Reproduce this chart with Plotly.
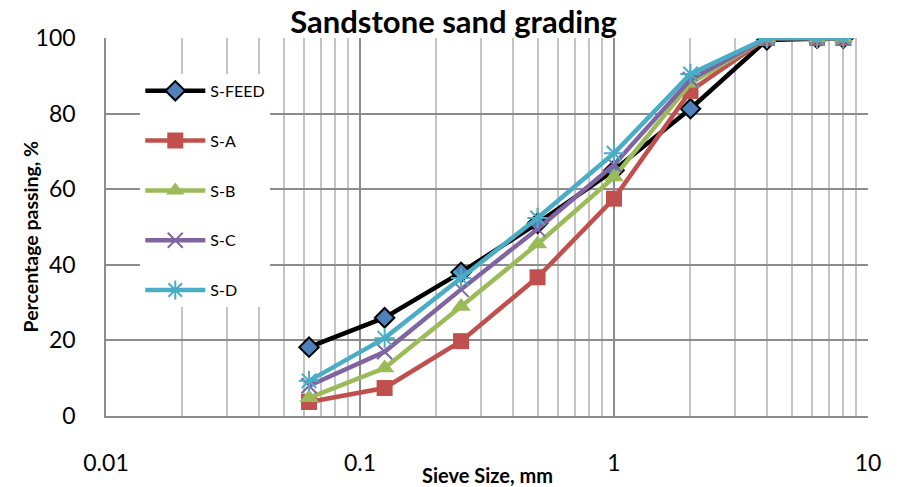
import plotly.graph_objects as go

sieve_mm = [0.063, 0.125, 0.25, 0.5, 1, 2, 4, 6.3, 8]
s_feed = [18.2, 26.0, 38.0, 51.0, 65.0, 81.3, 99.5, 100, 100]
s_a = [3.7, 7.4, 19.8, 36.7, 57.5, 86.0, 100, 100, 100]
s_b = [4.8, 12.7, 29.0, 45.5, 63.2, 88.0, 100, 100, 100]
s_c = [8.0, 17.0, 33.5, 49.5, 66.5, 89.0, 100, 100, 100]
s_d = [9.3, 20.6, 36.5, 52.4, 69.5, 90.5, 100, 100, 100]

x_tickvals = [0.01, 0.1, 1, 10]
x_ticktext = ["0.01", "0.1", "1", "10"]

FONT = "Lato, 'Open Sans', sans-serif"

series = [
    ("S-FEED", s_feed, "#000000", dict(symbol="diamond", size=15, color="#4f81bd", line=dict(color="#000000", width=2))),
    ("S-A", s_a, "#c0504d", dict(symbol="square", size=16, color="#c0504d", line=dict(width=0))),
    ("S-B", s_b, "#9bbb59", dict(symbol="triangle-up", size=17, color="#9bbb59", line=dict(width=0))),
    ("S-C", s_c, "#8064a2", dict(symbol="x-thin-open", size=15, color="#8064a2", line=dict(color="#8064a2", width=2))),
    ("S-D", s_d, "#4bacc6", dict(symbol="asterisk-open", size=17, color="#4bacc6", line=dict(color="#4bacc6", width=2))),
]

fig = go.Figure()
for name, ys, col, mk in series:
    fig.add_trace(go.Scatter(
        x=sieve_mm, y=ys, name=name, mode="lines+markers",
        line=dict(color=col, width=4.5), marker=mk, legendgroup=name,
    ))

fig.update_layout(
    width=902, height=487,
    margin=dict(l=98, r=42, t=30, b=79, autoexpand=False),
    paper_bgcolor="white", plot_bgcolor="white",
    font=dict(family=FONT, color="#000000"),
    title=dict(text="<b>Sandstone sand grading</b>", x=0.494, xanchor="center",
               y=0.972, yanchor="middle", font=dict(size=31, family=FONT)),
    legend=dict(x=0.045, y=0.905, xanchor="left", yanchor="top",
                bgcolor="white", font=dict(size=16, family=FONT),
                tracegroupgap=26, itemwidth=60,
                entrywidth=200, entrywidthmode="pixels",
                borderwidth=0),
    showlegend=True,
    annotations=[
        dict(text="<b>Sieve Size, mm</b>", xref="paper", yref="paper",
             x=0.5, y=-0.155, xanchor="center", yanchor="middle",
             showarrow=False, font=dict(size=20, family=FONT)),
        dict(text="<b>Percentage passing, %</b>", xref="paper", yref="paper",
             x=-0.0997, y=0.475, xanchor="center", yanchor="middle", textangle=-90,
             showarrow=False, font=dict(size=19.5, family=FONT)),
    ],
)

fig.update_xaxes(
    type="log", range=[-2, 1],
    tickvals=x_tickvals, ticktext=x_ticktext,
    tickfont=dict(size=23, family=FONT), ticks="", ticklabelstandoff=26,
    showgrid=True, gridcolor="#8c8c8c", gridwidth=1.5,
    minor=dict(showgrid=True, gridcolor="#c4c4c4", gridwidth=1.5, dtick="D1"),
    showline=True, linecolor="#8c8c8c", linewidth=1.5,
    zeroline=False, automargin=False,
)
fig.update_yaxes(
    range=[0, 100], dtick=20,
    tickfont=dict(size=23, family=FONT), ticks="", ticklabelstandoff=24,
    showgrid=True, gridcolor="#8c8c8c", gridwidth=1.5,
    showline=True, linecolor="#8c8c8c", linewidth=1.5,
    zeroline=False, automargin=False,
)

fig.write_html("out.html")
